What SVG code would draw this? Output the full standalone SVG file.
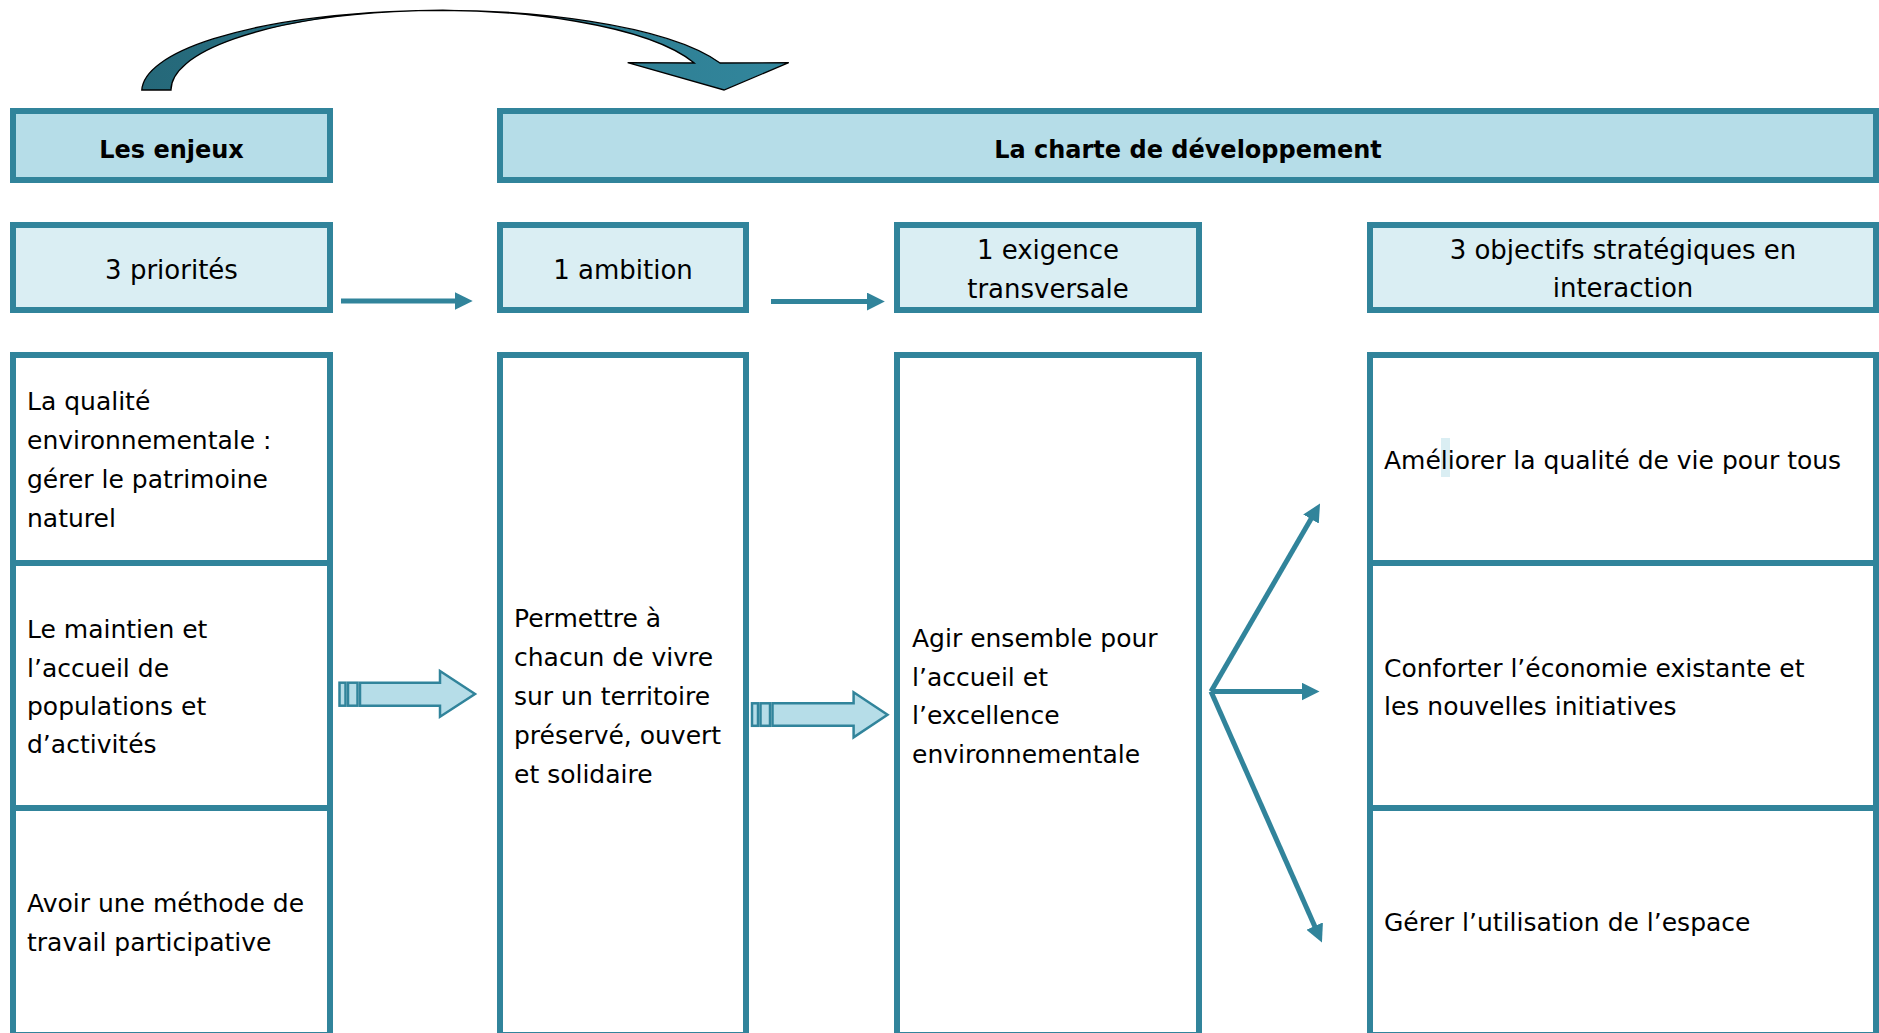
<svg xmlns="http://www.w3.org/2000/svg" width="1879" height="1033" viewBox="0 0 1879 1033">
  <style>
    .box { stroke: #31849B; stroke-width: 6; }
    .h1 { fill: #B6DDE8; }
    .h2 { fill: #DAEEF3; }
    .body { fill: #FFFFFF; }
    .div { stroke: #31849B; stroke-width: 6; fill: none; }
    text { font-family: "DejaVu Sans", "Noto Sans", sans-serif; fill: #000000; }
    .t1 { font-size: 24px; font-weight: bold; text-anchor: middle; }
    .t2 { font-size: 26px; text-anchor: middle; }
    .tb { font-size: 25px; }
    .conn { stroke: #31849B; stroke-width: 5; fill: none; marker-end: url(#head); }
    .block { fill: #B6DDE8; stroke: #31849B; stroke-width: 2.5; }
  </style>
  <defs>
    <marker id="head" markerUnits="userSpaceOnUse" markerWidth="18" markerHeight="18" viewBox="0 0 18 18" refX="4" refY="9" orient="auto">
      <path d="M0,0 L18,9 L0,18 z" fill="#31849B"/>
    </marker>
    <linearGradient id="curveGrad" x1="0" y1="0" x2="1" y2="0">
      <stop offset="0" stop-color="#256879"/>
      <stop offset="0.55" stop-color="#2C7A8E"/>
      <stop offset="1" stop-color="#32869C"/>
    </linearGradient>
  </defs>

  <!-- curved arrow -->
  <g id="curved-arrow">
    <path d="M141.8,90 A298.6,81 0 0 1 720,63 L788.7,62.7 L724,90 L627.7,62.7 L694.3,63 A269.6,79.3 0 0 0 171,90 Z" fill="url(#curveGrad)" stroke="#000000" stroke-width="1.3" stroke-linejoin="miter"/>
  </g>

  <!-- row 1 -->
  <g id="les-enjeux">
    <rect class="box h1" x="13" y="111" width="317" height="69"/>
    <text class="t1" x="171.5" y="158">Les enjeux</text>
  </g>
  <g id="charte">
    <rect class="box h1" x="500" y="111" width="1376" height="69"/>
    <text class="t1" x="1188" y="158">La charte de développement</text>
  </g>

  <!-- row 2 -->
  <g id="priorites">
    <rect class="box h2" x="13" y="225" width="317" height="85"/>
    <text class="t2" x="171.5" y="279">3 priorités</text>
  </g>
  <g id="ambition">
    <rect class="box h2" x="500" y="225" width="246" height="85"/>
    <text class="t2" x="623" y="279">1 ambition</text>
  </g>
  <g id="exigence">
    <rect class="box h2" x="897" y="225" width="302" height="85"/>
    <text class="t2" x="1048" y="259">1 exigence</text>
    <text class="t2" x="1048" y="298">transversale</text>
  </g>
  <g id="objectifs">
    <rect class="box h2" x="1370" y="225" width="506" height="85"/>
    <text class="t2" x="1623" y="259">3 objectifs stratégiques en</text>
    <text class="t2" x="1623" y="297">interaction</text>
  </g>

  <!-- row 3 -->
  <g id="col-priorites">
    <rect class="box body" x="13" y="355" width="317" height="680"/>
    <line class="div" x1="13" y1="563" x2="330" y2="563"/>
    <line class="div" x1="13" y1="808" x2="330" y2="808"/>
  </g>
  <g id="prio-1">
    <text class="tb" x="27" y="410">La qualité</text>
    <text class="tb" x="27" y="449">environnementale :</text>
    <text class="tb" x="27" y="488">gérer le patrimoine</text>
    <text class="tb" x="27" y="527">naturel</text>
  </g>
  <g id="prio-2">
    <text class="tb" x="27" y="638">Le maintien et</text>
    <text class="tb" x="27" y="677">l’accueil de</text>
    <text class="tb" x="27" y="715">populations et</text>
    <text class="tb" x="27" y="753">d’activités</text>
  </g>
  <g id="prio-3">
    <text class="tb" x="27" y="912">Avoir une méthode de</text>
    <text class="tb" x="27" y="951">travail participative</text>
  </g>

  <g id="col-ambition">
    <rect class="box body" x="500" y="355" width="246" height="680"/>
    <text class="tb" x="514" y="627">Permettre à</text>
    <text class="tb" x="514" y="666">chacun de vivre</text>
    <text class="tb" x="514" y="705">sur un territoire</text>
    <text class="tb" x="514" y="744">préservé, ouvert</text>
    <text class="tb" x="514" y="783">et solidaire</text>
  </g>

  <g id="col-exigence">
    <rect class="box body" x="897" y="355" width="302" height="680"/>
    <text class="tb" x="912" y="647">Agir ensemble pour</text>
    <text class="tb" x="912" y="686">l’accueil et</text>
    <text class="tb" x="912" y="724">l’excellence</text>
    <text class="tb" x="912" y="763">environnementale</text>
  </g>

  <g id="col-objectifs">
    <rect class="box body" x="1370" y="355" width="506" height="680"/>
    <line class="div" x1="1370" y1="563" x2="1876" y2="563"/>
    <line class="div" x1="1370" y1="808" x2="1876" y2="808"/>
  </g>
  <g id="obj-1">
    <rect x="1441" y="438" width="9" height="39" fill="#DAEEF3"/>
    <text class="tb" x="1384" y="469">Améliorer la qualité de vie pour tous</text>
  </g>
  <g id="obj-2">
    <text class="tb" x="1384" y="677">Conforter l’économie existante et</text>
    <text class="tb" x="1384" y="715">les nouvelles initiatives</text>
  </g>
  <g id="obj-3">
    <text class="tb" x="1384" y="931">Gérer l’utilisation de l’espace</text>
  </g>

  <!-- connectors -->
  <g id="connectors">
    <line class="conn" x1="341" y1="301" x2="458.7" y2="301"/>
    <line class="conn" x1="771" y1="301.5" x2="870.8" y2="301.5"/>
    <line class="conn" x1="1211" y1="691.5" x2="1313" y2="515.6"/>
    <line class="conn" x1="1211" y1="691.5" x2="1305.5" y2="691.5"/>
    <line class="conn" x1="1211" y1="691.5" x2="1316.3" y2="929.7"/>
    <g id="block-arrow-1">
      <rect class="block" x="339.5" y="682.7" width="6" height="23"/>
      <rect class="block" x="348" y="682.7" width="9.5" height="23"/>
      <path class="block" d="M360,682.7 L440,682.7 L440,671 L475,694 L440,716.7 L440,705.7 L360,705.7 Z"/>
    </g>
    <g id="block-arrow-2">
      <rect class="block" x="752" y="703.3" width="6" height="22.5"/>
      <rect class="block" x="760.5" y="703.3" width="9.5" height="22.5"/>
      <path class="block" d="M772.5,703.3 L853.6,703.3 L853.6,692.3 L887.5,714.7 L853.6,737.3 L853.6,725.8 L772.5,725.8 Z"/>
    </g>
  </g>
</svg>
